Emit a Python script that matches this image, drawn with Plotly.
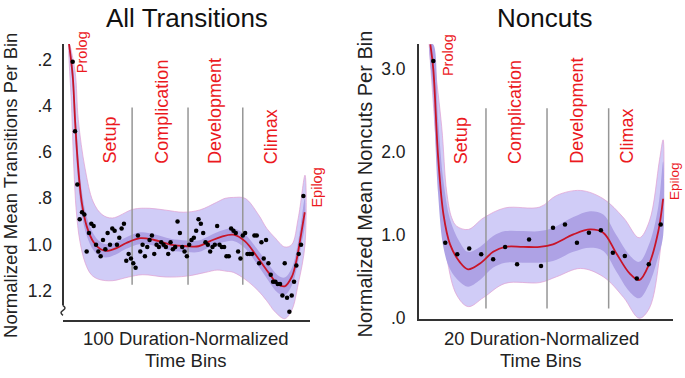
import plotly.graph_objects as go

W, H = 685, 378

# ---------------- data: All Transitions (100 bins) ----------------
trans_bins = list(range(1, 101))
trans_values = [0.21, 0.51, 0.74, 0.89, 0.86, 0.87, 1.03, 0.95, 0.91, 0.92,
                1.00, 1.03, 1.05, 0.98, 1.02, 0.95, 1.00, 0.93, 0.94, 1.00,
                0.97, 0.93, 0.91, 1.07, 1.04, 1.06, 1.08, 1.10, 0.96, 1.03,
                1.00, 1.05, 1.01, 0.98, 0.96, 1.04, 1.00, 1.01, 0.99, 1.00,
                1.01, 1.04, 0.99, 1.02, 1.01, 0.90, 0.95, 1.01, 1.03, 1.05,
                1.00, 0.98, 0.97, 0.94, 0.89, 0.91, 0.95, 0.99, 1.00, 1.03,
                1.01, 1.00, 0.92, 1.00, 1.01, 1.01, 1.05, 1.05, 0.93, 0.94,
                0.95, 1.03, 1.06, 0.96, 0.95, 1.04, 1.04, 1.04, 0.96, 0.96,
                1.08, 0.99, 1.06, 0.98, 1.08, 1.13, 1.16, 1.16, 1.17, 1.17,
                1.22, 1.08, 1.23, 1.29, 1.22, 1.16, 1.09, 1.04, 1.00, 0.79]

trans_fit_x = [-0.6, 1, 2, 3, 4, 5, 7, 10, 13, 16, 20, 24, 30, 36, 43, 50, 55, 60,
               65, 70, 75, 80, 85, 89, 92, 95, 97, 99, 100.6]
trans_fit_y = [0.13, 0.27, 0.46, 0.62, 0.74, 0.825, 0.92, 0.99, 1.02, 1.027, 1.014,
               0.993, 0.972, 0.98, 1.0, 1.007, 1.007, 0.985, 0.965, 0.957, 0.986,
               1.05, 1.12, 1.17, 1.18, 1.14, 1.07, 0.957, 0.86]
trans_inner_half = [0, 0.05, 0.07, 0.07, 0.06, 0.05, 0.04, 0.035, 0.03, 0.028, 0.026,
                    0.025, 0.025, 0.025, 0.025, 0.025, 0.025, 0.025, 0.026, 0.027,
                    0.03, 0.033, 0.036, 0.038, 0.038, 0.038, 0.04, 0.05, 0.06]
trans_upper_x = [-0.6, 2, 3.4, 6.3, 9.8, 13.6, 18, 27, 34, 41, 48.5, 55.6, 62.8,
                 66.4, 70, 75, 80.7, 84.3, 87.8, 92, 95, 97.8, 100.7]
trans_upper_y = [0.13, 0.25, 0.46, 0.67, 0.815, 0.87, 0.885, 0.847, 0.843, 0.851,
                 0.86, 0.85, 0.817, 0.80, 0.796, 0.80, 0.87, 0.93, 0.97, 1.01, 1.0,
                 0.886, 0.70]
trans_lower_x = [-0.6, 0.5, 1.5, 2.5, 4, 6.4, 9, 12.2, 18, 25, 31, 41, 50, 58, 63,
                 67, 70, 75, 80.7, 84.3, 87.8, 92, 95, 97.8, 100.7]
trans_lower_y = [0.13, 0.40, 0.67, 0.85, 0.98, 1.08, 1.13, 1.15, 1.156, 1.14, 1.13,
                 1.14, 1.136, 1.12, 1.11, 1.115, 1.12, 1.15, 1.2, 1.243, 1.29, 1.32,
                 1.284, 1.17, 1.0]
trans_phase_bounds = [26.5, 50.5, 74]
trans_ticks = [0.2, 0.4, 0.6, 0.8, 1.0, 1.2]
trans_ticktext = [".2", ".4", ".6", ".8", "1.0", "1.2"]

# ---------------- data: Noncuts (20 bins) ----------------
nc_bins = list(range(1, 21))
nc_values = [3.10, 0.91, 0.77, 0.84, 0.77, 0.71, 0.86, 0.65, 0.95, 0.63,
             1.09, 1.13, 0.91, 1.03, 1.06, 0.79, 0.75, 0.48, 0.65, 1.13]
nc_fit_x = [0.75, 1.0, 1.4, 1.85, 2.4, 3.2, 3.9, 4.9, 6.0, 7.0, 8.5, 9.9, 11.0,
            12.7, 14.1, 15.2, 16.3, 17.4, 18.2, 19.05, 19.8, 20.2]
nc_fit_y = [3.3, 3.0, 1.95, 1.25, 0.89, 0.68, 0.59, 0.66, 0.80, 0.86, 0.86, 0.86,
            0.89, 1.01, 1.07, 1.03, 0.78, 0.54, 0.46, 0.66, 1.05, 1.44]
nc_inner_half = [0, 0.3, 0.45, 0.4, 0.3, 0.24, 0.21, 0.2, 0.19, 0.19, 0.19, 0.19,
                 0.2, 0.21, 0.22, 0.22, 0.22, 0.22, 0.22, 0.24, 0.3, 0.45]
nc_upper_x = [0.9, 1.7, 2.12, 2.54, 2.95, 3.92, 5.2, 7.0, 9.9, 11.3, 13.3, 15.2,
              16.9, 18.2, 19.05, 19.9, 20.2]
nc_upper_y = [3.31, 2.31, 1.52, 1.21, 1.11, 1.07, 1.21, 1.33, 1.34, 1.48, 1.54,
              1.44, 1.21, 0.97, 1.17, 1.91, 2.15]
nc_lower_x = [0.65, 1.14, 1.56, 2.12, 2.95, 3.92, 5.2, 7.0, 9.9, 11.3, 13.3, 15.2,
              16.9, 18.2, 19.05, 19.9, 20.2]
nc_lower_y = [3.31, 2.31, 1.52, 0.74, 0.28, 0.14, 0.25, 0.42, 0.43, 0.5, 0.6, 0.5,
              0.25, 0.0, 0.12, 0.74, 1.3]
nc_phase_bounds = [5.4, 10.5, 15.65]
nc_ticks = [0, 1, 2, 3]
nc_ticktext = [".0", "1.0", "2.0", "3.0"]

phase_names = ["Prolog", "Setup", "Complication", "Development", "Climax", "Epilog"]

# ---------------- style ----------------
FONT = "Liberation Sans, Arial, sans-serif"
LIGHT = "rgb(208,204,247)"
DARK = "rgb(174,162,229)"
EDGE = "rgba(225,160,210,0.9)"
RED = "rgb(200,20,40)"
LABEL_RED = "rgb(235,25,30)"
GRAY = "rgb(150,150,150)"


def px(x):
    return x / W


def py(y):
    return 1 - y / H


fig = go.Figure()


def add_panel(xa, ya, bins, vals, fx, fy, half, ux, uy, lx, ly, bounds, vtop, vbot):
    # outer confidence band
    fig.add_trace(go.Scatter(
        x=ux + lx[::-1], y=uy + ly[::-1], mode="lines", fill="toself",
        fillcolor=LIGHT, line=dict(color=EDGE, width=0.8, shape="spline"),
        xaxis=xa, yaxis=ya, hoverinfo="skip"))
    # inner band
    hi = [a - h for a, h in zip(fy, half)]
    lo = [a + h for a, h in zip(fy, half)]
    fig.add_trace(go.Scatter(
        x=fx + fx[::-1], y=hi + lo[::-1], mode="lines", fill="toself",
        fillcolor=DARK, line=dict(color="rgba(0,0,0,0)", width=0, shape="spline"),
        xaxis=xa, yaxis=ya, hoverinfo="skip"))
    # phase boundaries
    for b in bounds:
        fig.add_trace(go.Scatter(
            x=[b, b], y=[vtop, vbot], mode="lines",
            line=dict(color=GRAY, width=1.5), xaxis=xa, yaxis=ya, hoverinfo="skip"))
    # fitted curve
    fig.add_trace(go.Scatter(
        x=fx, y=fy, mode="lines", line=dict(color=RED, width=1.8, shape="spline"),
        xaxis=xa, yaxis=ya, hoverinfo="skip"))
    # data points
    fig.add_trace(go.Scatter(
        x=bins, y=vals, mode="markers", marker=dict(color="black", size=4.5),
        xaxis=xa, yaxis=ya, cliponaxis=False))


add_panel("x", "y", trans_bins, trans_values, trans_fit_x, trans_fit_y,
          trans_inner_half, trans_upper_x, trans_upper_y, trans_lower_x,
          trans_lower_y, trans_phase_bounds, 0.407, 1.173)
add_panel("x2", "y2", nc_bins, nc_values, nc_fit_x, nc_fit_y, nc_inner_half,
          nc_upper_x, nc_upper_y, nc_lower_x, nc_lower_y, nc_phase_bounds, 2.53, 0.118)

axis_common = dict(showgrid=False, zeroline=False, fixedrange=True)
fig.update_layout(
    width=W, height=H, margin=dict(l=0, r=0, t=0, b=0),
    paper_bgcolor="white", plot_bgcolor="white", showlegend=False,
    font=dict(family=FONT, color="#222"),
    xaxis=dict(domain=[px(63), px(310)], range=[-3.16, 102.85], anchor="y",
               showticklabels=False, ticks="", showline=True, linecolor="#333",
               linewidth=2, **axis_common),
    yaxis=dict(domain=[py(328), py(45)], range=[1.3266, 0.1325], anchor="x",
               tickvals=trans_ticks, ticktext=trans_ticktext, ticks="",
               ticklabelstandoff=10, tickfont=dict(size=17.5, color="#222", family=FONT),
               showline=False, **axis_common),
    xaxis2=dict(domain=[px(419), px(673)], range=[-0.195, 21.025], anchor="y2",
                showticklabels=False, ticks="", showline=True, linecolor="#333",
                linewidth=2, **axis_common),
    yaxis2=dict(domain=[py(327), py(45)], range=[-0.0118, 3.306], anchor="x2",
                tickvals=nc_ticks, ticktext=nc_ticktext, ticks="",
                ticklabelstandoff=8, tickfont=dict(size=17.5, color="#222", family=FONT),
                showline=True, linecolor="#333", linewidth=2, **axis_common),
)

# left y-axis line with break mark
fig.add_shape(type="line", xref="paper", yref="paper", x0=px(63), x1=px(63),
              y0=py(45), y1=py(313), line=dict(color="#333", width=2))
fig.add_shape(type="path", xref="paper", yref="paper",
              path=(f"M {px(63)},{py(313)} Q {px(67)},{py(315.5)} {px(63)},{py(318)} "
                    f"Q {px(59)},{py(320.5)} {px(63)},{py(323)}"),
              line=dict(color="#333", width=1.5))

ann = []
# panel titles
ann.append(dict(text="All Transitions", x=px(187), y=py(18),
                font=dict(size=26, color="#111")))
ann.append(dict(text="Noncuts", x=px(544), y=py(18),
                font=dict(size=26, color="#111")))
# y titles
ann.append(dict(text="Normalized Mean Transitions Per Bin", x=px(10.5), y=py(190),
                textangle=-90, font=dict(size=18.5, color="#222")))
ann.append(dict(text="Normalized Mean Noncuts Per Bin", x=px(364), y=py(189),
                textangle=-90, font=dict(size=20, color="#222")))
# x titles
for cx, n in [(186, "100"), (541, "20")]:
    ann.append(dict(text=f"{n} Duration-Normalized", x=px(cx), y=py(347),
                    font=dict(size=18.5, color="#222")))
    ann.append(dict(text="Time Bins", x=px(cx), y=py(369), font=dict(size=18.5, color="#222")))

# phase labels (rotated)
left_pos = [(82, 77, 14.5), (110, 170, 18), (161.7, 170, 18), (215, 170, 18),
            (271.7, 170, 18), (316.7, 215, 14.5)]
right_pos = [(448, 80, 14.5), (461.7, 170, 18), (515, 170, 18), (576.7, 170, 18),
             (627, 170, 18), (674, 207, 13.5)]
for pos in (left_pos, right_pos):
    for name, (x, yb, fs) in zip(phase_names, pos):
        ann.append(dict(text=name, x=px(x), y=py(yb), yanchor="bottom",
                        xanchor="center", textangle=-90,
                        font=dict(size=fs, color=LABEL_RED)))

for a in ann:
    a.setdefault("xref", "paper")
    a.setdefault("yref", "paper")
    a.setdefault("showarrow", False)
    a.setdefault("xanchor", "center")
    a.setdefault("yanchor", "middle")
    fig.add_annotation(**a)

fig.write_html("out.html", config={"displayModeBar": False},
               post_script="document.body.style.margin='0';")
